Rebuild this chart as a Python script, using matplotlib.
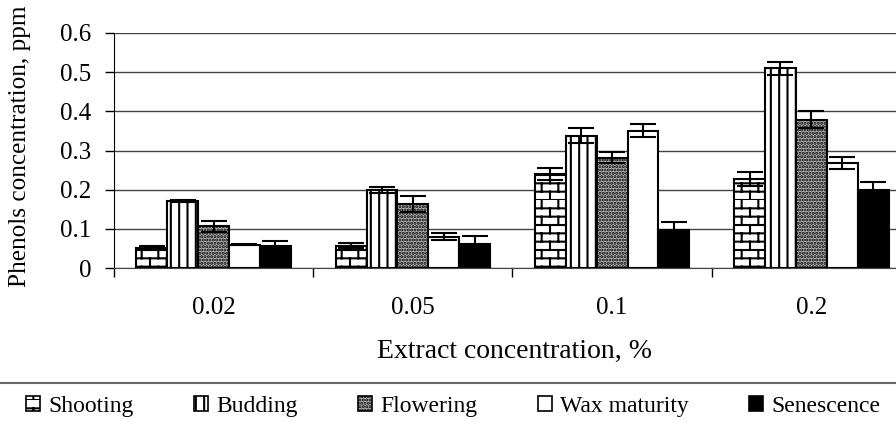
import warnings
import numpy as np
import matplotlib
matplotlib.use('Agg')
import matplotlib.pyplot as plt
import matplotlib.hatch as mhatch
from matplotlib.path import Path
from matplotlib.patches import Patch
from matplotlib.lines import Line2D

warnings.filterwarnings('ignore')

concentrations = ['0.02', '0.05', '0.1', '0.2']
stages = ['Shooting', 'Budding', 'Flowering', 'Wax maturity', 'Senescence']

shooting = [0.052, 0.057, 0.240, 0.227]
budding = [0.171, 0.200, 0.338, 0.510]
flowering = [0.106, 0.163, 0.282, 0.379]
wax_maturity = [0.060, 0.080, 0.351, 0.269]
senescence = [0.057, 0.062, 0.097, 0.199]

shooting_err = [0.004, 0.007, 0.016, 0.017]
budding_err = [0.002, 0.008, 0.020, 0.016]
flowering_err = [0.013, 0.020, 0.015, 0.021]
wax_maturity_err = [0.002, 0.009, 0.016, 0.015]
senescence_err = [0.012, 0.020, 0.020, 0.020]


# brick hatch ('B') for the Shooting series
class BrickHatch(mhatch.HatchPatternBase):
    def __init__(self, hatch, density):
        n = hatch.count('B')
        self.rows = 12 * n
        self.cols = 6
        self.num_vertices = (self.rows + self.rows * self.cols) * 2

    def set_vertices_and_codes(self, vertices, codes):
        segs = []
        h = 1.0 / self.rows
        for i in range(self.rows):
            y = i * h
            segs.append(((0, y), (1, y)))
            off = 0.5 / self.cols if i % 2 else 0.0
            for j in range(self.cols):
                x = j / self.cols + off
                segs.append(((x, y), (x, y + h)))
        vertices[:] = np.array(segs).reshape(-1, 2)
        codes[0::2] = Path.MOVETO
        codes[1::2] = Path.LINETO


mhatch._hatch_types.append(BrickHatch)

plt.rcParams['font.family'] = ['Liberation Serif', 'DejaVu Serif']
plt.rcParams['hatch.linewidth'] = 1.5

values = [shooting, budding, flowering, wax_maturity, senescence]
errors = [shooting_err, budding_err, flowering_err, wax_maturity_err, senescence_err]
styles = [
    dict(facecolor='white', hatch='B'),
    dict(facecolor='white', hatch='||'),
    dict(facecolor='#b8b8b8', hatch='.....'),
    dict(facecolor='white', hatch=None),
    dict(facecolor='black', hatch=None),
]

fig = plt.figure(figsize=(8.96, 4.23), dpi=100)
ax = fig.add_axes([0.1272, 0.3664, 0.8895, 0.5556])

x = np.arange(len(concentrations))
w = 0.155
for k in range(len(stages)):
    pos = x + (k - 2) * w
    ax.bar(pos, values[k], w, edgecolor='black', linewidth=1.5, zorder=2,
           **styles[k])
    ax.errorbar(pos, values[k], yerr=errors[k], fmt='none', ecolor='black',
                elinewidth=1.5, capsize=9.5, capthick=1.5, zorder=3)

ax.set_xlim(-0.5, 3.5)
ax.set_ylim(0, 0.6)
ax.set_yticks(np.arange(0, 0.61, 0.1))
ax.set_yticklabels(['0', '0.1', '0.2', '0.3', '0.4', '0.5', '0.6'])
ax.yaxis.grid(True, color='#444444', linewidth=1, zorder=0)
ax.set_axisbelow(True)
ax.tick_params(axis='y', direction='out', length=6.5, width=1, labelsize=18, pad=10)

ax.set_xticks([-0.5, 0.5, 1.5, 2.5])
ax.set_xticklabels([])
ax.set_xticks(x, minor=True)
ax.set_xticklabels(concentrations, minor=True)
ax.tick_params(axis='x', which='major', direction='out', length=6.5, width=1)
ax.tick_params(axis='x', which='minor', length=0, labelsize=18, pad=21)

for s in ['top', 'right']:
    ax.spines[s].set_visible(False)
ax.spines['left'].set_color('black')
ax.spines['bottom'].set_color('#444444')

fig.text(514 / 896, (423 - 351) / 423, 'Extract concentration, %',
         ha='center', va='center', fontsize=20)
fig.text(0.022, (423 - 287) / 423, 'Phenols concentration, ppm',
         rotation=90, ha='center', va='bottom', fontsize=18.2)

fig.add_artist(Line2D([0, 1], [40 / 423, 40 / 423], transform=fig.transFigure,
                      color='#666666', linewidth=1.5))

handles = [Patch(edgecolor='black', linewidth=1.2, **styles[k]) for k in range(len(stages))]
fig.legend(handles, stages, loc='center', bbox_to_anchor=(0.506, 17 / 423),
           ncol=5, frameon=False, fontsize=17, handlelength=0.6,
           handleheight=0.6, handletextpad=0.35, columnspacing=2.55)

fig.savefig('out.png', dpi=100)
